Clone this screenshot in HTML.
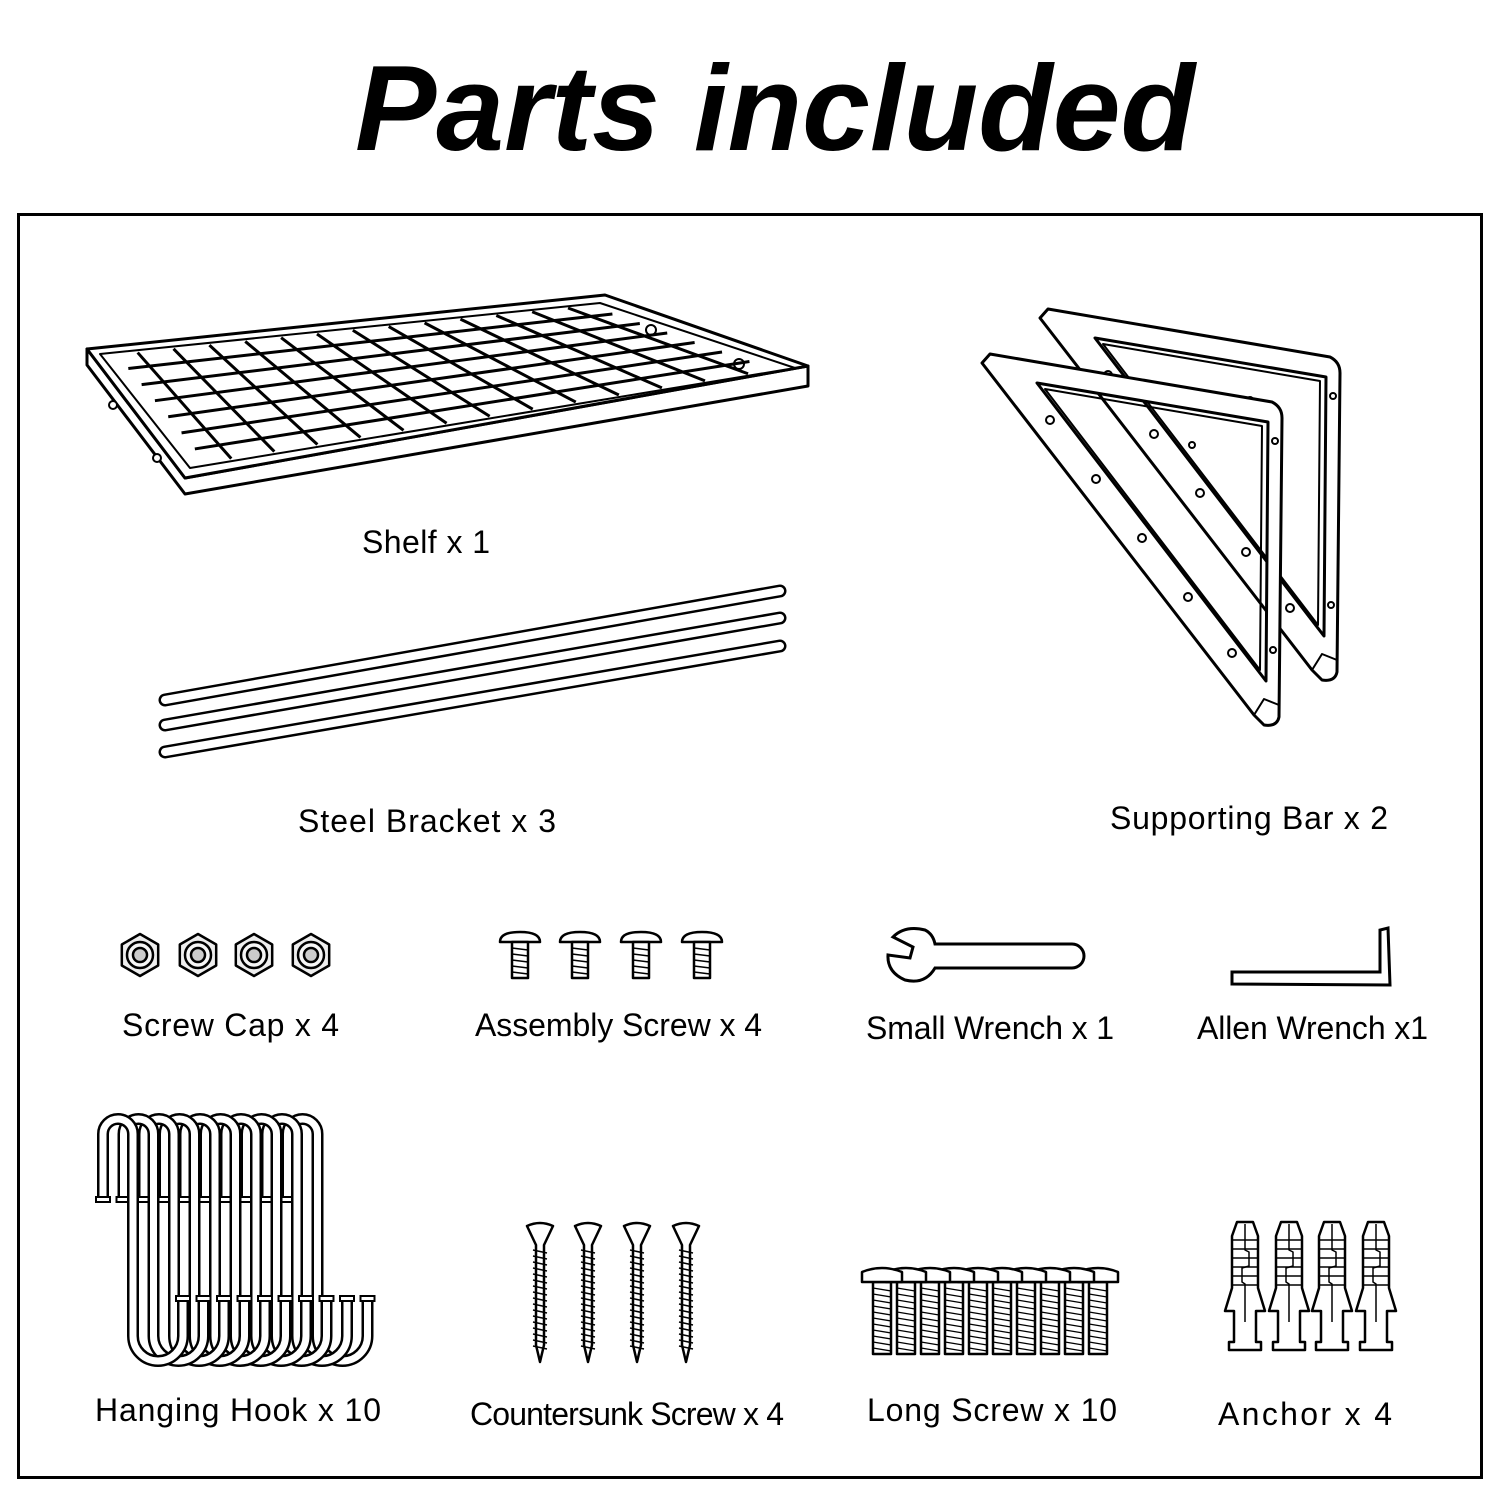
<!DOCTYPE html>
<html><head><meta charset="utf-8"><style>
html,body{margin:0;padding:0;background:#fff}
svg{display:block}
text{font-family:"Liberation Sans",Arial,sans-serif;fill:#000}
</style></head><body>
<svg id="s" width="1500" height="1500" viewBox="0 0 1500 1500" xmlns="http://www.w3.org/2000/svg">
<rect width="1500" height="1500" fill="#fff"/>
<text x="355" y="150" font-size="122" font-weight="bold" font-style="italic" textLength="840" lengthAdjust="spacingAndGlyphs">Parts included</text>
<rect x="18.5" y="214.5" width="1463" height="1263" fill="none" stroke="#000" stroke-width="3"/>

<!-- Shelf -->
<g fill="#fff" stroke="#000" stroke-width="3" stroke-linejoin="round">
<path d="M87,349 L87,365 L185,494 L808,386 L808,366 L185,478 Z"/>
<path d="M87,349 L605,295 L808,366 L185,478 Z"/>
<path d="M100,354 L600,303 L795,368 L190,468 Z" stroke-width="2"/>
<circle cx="113" cy="405" r="4" stroke-width="2"/><circle cx="157" cy="458" r="4" stroke-width="2"/>
<circle cx="651" cy="330" r="5" stroke-width="2"/><circle cx="739" cy="364" r="5" stroke-width="2"/>
</g>
<g id="grid" stroke="#000" stroke-width="3" fill="none"></g>

<!-- rods -->
<g fill="none" stroke-linecap="round">
<path d="M165,700 L780,591 M165,725 L780,618 M165,752 L780,646" stroke="#000" stroke-width="13"/>
<path d="M165,700 L780,591 M165,725 L780,618 M165,752 L780,646" stroke="#fff" stroke-width="8"/>
</g>

<!-- brackets -->
<g id="br" fill="#fff" stroke="#000" stroke-width="3" stroke-linejoin="round"></g>

<!-- small parts -->
<g id="small" fill="#fff" stroke="#000" stroke-width="2.5" stroke-linejoin="round"></g>

<!-- wrench -->
<g fill="#fff" stroke="#000" stroke-width="3">
<path d="M935,944 L1072,944 A12,12 0 0 1 1072,968 L935,968 Q925,985 905,980 Q887,972 888,955 L910,958 L913,947 L893,937 Q905,925 925,930 Q933,934 935,944 Z"/>
<path d="M1232,972 L1380,972 L1380,930 L1388,928 L1390,985 L1232,984 Z"/>
</g>

<g id="hooks" fill="none" stroke-linecap="butt"></g>
<g id="bottom" fill="#fff" stroke="#000" stroke-width="2.5" stroke-linejoin="round"></g>

<g font-size="32" lengthAdjust="spacingAndGlyphs">
<text x="362" y="553" textLength="128">Shelf x 1</text>
<text x="298" y="832" textLength="258">Steel Bracket x 3</text>
<text x="1110" y="829" textLength="278">Supporting Bar x 2</text>
<text x="122" y="1036" textLength="217">Screw Cap x 4</text>
<text x="475" y="1036" textLength="287">Assembly Screw x 4</text>
<text x="866" y="1039" textLength="248">Small Wrench x 1</text>
<text x="1197" y="1039" textLength="231">Allen Wrench x1</text>
<text x="95" y="1421" textLength="286">Hanging Hook x 10</text>
<text x="470" y="1425" textLength="314">Countersunk Screw x 4</text>
<text x="867" y="1421" textLength="250">Long Screw x 10</text>
<text x="1218" y="1425" textLength="174">Anchor x 4</text>
</g>
</svg>
<script>
const NS="http://www.w3.org/2000/svg";
function el(p,t,a){const e=document.createElementNS(NS,t);for(const k in a)e.setAttribute(k,a[k]);p.appendChild(e);return e;}
// grid
const g=document.getElementById('grid');
const P00=[100,354],P10=[600,303],P11=[795,368],P01=[190,468];
function bl(u,v){return [P00[0]*(1-u)*(1-v)+P10[0]*u*(1-v)+P11[0]*u*v+P01[0]*(1-u)*v, P00[1]*(1-u)*(1-v)+P10[1]*u*(1-v)+P11[1]*u*v+P01[1]*(1-u)*v];}
for(let i=1;i<=13;i++){const u=i/14;const a=bl(u,0.02),b=bl(u,0.98);el(g,'line',{x1:a[0],y1:a[1],x2:b[0],y2:b[1]});}
for(let j=1;j<=6;j++){const v=j/7;const a=bl(0.03,v),b=bl(0.97,v);el(g,'line',{x1:a[0],y1:a[1],x2:b[0],y2:b[1]});}
// brackets
const br=document.getElementById('br');
[[0,0],[-58,45]].forEach(([dx,dy])=>{
 const G=el(br,'g',{transform:`translate(${dx},${dy})`});
 el(G,'path',{d:"M1040,318 L1048,309 L1330,357 Q1340,362 1340,373 L1337,672 Q1335,682 1322,680 L1312,670 Z M1095,338 L1326,377 L1324,636 Z","fill-rule":"evenodd"});
 el(G,'path',{d:"M1103,344 L1320,381 L1318,625 Z",fill:"none","stroke-width":2});
 el(G,'path',{d:"M1312,670 L1322,654 L1337,660",fill:"none","stroke-width":2});
 [[1108,375],[1154,434],[1200,493],[1246,552],[1290,608]].forEach(([x,y])=>el(G,'circle',{cx:x,cy:y,r:4,"stroke-width":2}));
 [[1250,400],[1333,396],[1331,605]].forEach(([x,y])=>el(G,'circle',{cx:x,cy:y,r:3,"stroke-width":2}));
});
// nuts
const s=document.getElementById('small');
[140,198,254,311].forEach(x=>{const y=955;let pts=[];for(let k=0;k<6;k++){const a=Math.PI/3*k+Math.PI/6;pts.push((x+21*Math.cos(a))+','+(y+21*Math.sin(a)));}
el(s,'polygon',{points:pts.join(' '),fill:'#eee'});el(s,'circle',{cx:x,cy:y,r:13,fill:'#f6f6f6'});el(s,'circle',{cx:x,cy:y,r:7,fill:'#ccc'});});
// assembly screws
[520,580,641,702].forEach(x=>{el(s,'path',{d:`M${x-20},942 Q${x-20},932 ${x},932 Q${x+20},932 ${x+20},942 Z`});el(s,'rect',{x:x-8,y:942,width:16,height:36});
for(let y=948;y<978;y+=6)el(s,'line',{x1:x-8,y1:y,x2:x+8,y2:y+2,'stroke-width':1.5});});
// hooks
const h=document.getElementById('hooks');
for(let i=9;i>=0;i--){const x=103+i*20.5;const d=`M${x},1198 L${x},1134 A15,15 0 0 1 ${x+30},1134 L${x+30},1336 A25,25 0 0 0 ${x+80},1336 L${x+80},1300`;
el(h,'path',{d:d,stroke:'#000','stroke-width':12});el(h,'path',{d:d,stroke:'#fff','stroke-width':7});
el(h,'rect',{x:x-7,y:1197,width:14,height:5,fill:'#fff',stroke:'#000','stroke-width':2});
el(h,'rect',{x:x+73,y:1296,width:14,height:5,fill:'#fff',stroke:'#000','stroke-width':2});}
// countersunk screws
const b=document.getElementById('bottom');
[540,588,637,686].forEach(x=>{el(b,'path',{d:`M${x-13},1226 Q${x},1220 ${x+13},1226 L${x+4},1245 L${x+4},1345 L${x},1362 L${x-4},1345 L${x-4},1245 Z`});
for(let y=1250;y<1350;y+=6)el(b,'line',{x1:x-7,y1:y,x2:x+7,y2:y+3,'stroke-width':1.5});});
// long screws
for(let i=9;i>=0;i--){const x=882+i*24;el(b,'rect',{x:x-9,y:1282,width:18,height:72});
for(let y=1288;y<1352;y+=6)el(b,'line',{x1:x-9,y1:y,x2:x+9,y2:y+3,'stroke-width':1.3});}
for(let i=9;i>=0;i--){const x=882+i*24;el(b,'path',{d:`M${x-20},1282 L${x-20},1272 Q${x},1264 ${x+20},1272 L${x+20},1282 Z`});}
// anchors
[1245,1289,1332,1376].forEach(x=>{el(b,'path',{d:`M${x-8},1222 L${x+8},1222 L${x+13},1236 L${x+13},1288 L${x+20},1311 L${x+11},1311 L${x+11},1342 L${x+16},1342 L${x+16},1350 L${x-16},1350 L${x-16},1342 L${x-11},1342 L${x-11},1311 L${x-20},1311 L${x-13},1288 L${x-13},1236 Z`});
for(let y=1240;y<1290;y+=9)el(b,'line',{x1:x-13,y1:y,x2:x+13,y2:y,'stroke-width':1.5});
el(b,'path',{d:`M${x},1224 L${x},1250 L${x+4},1252 L${x+4},1266 L${x-3},1268 L${x-3},1282 L${x},1284 L${x},1322`,fill:'none','stroke-width':1.5});});
</script>
</body></html>
